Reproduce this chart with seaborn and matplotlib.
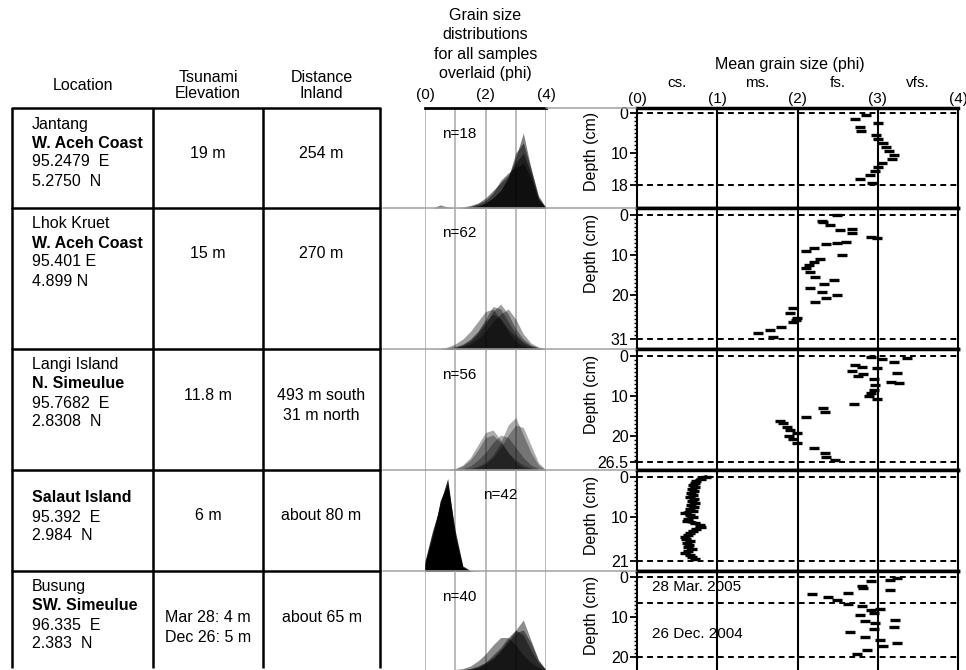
import matplotlib
matplotlib.use('Agg')
import matplotlib.pyplot as plt
import matplotlib.transforms as mtransforms
from matplotlib.ticker import FixedLocator, FixedFormatter
import seaborn as sns

# ---------------- data ----------------
SITE_LINES = [
    [('Jantang', 'normal'), ('W. Aceh Coast', 'bold'), ('95.2479  E', 'normal'), ('5.2750  N', 'normal')],
    [('Lhok Kruet', 'normal'), ('W. Aceh Coast', 'bold'), ('95.401 E', 'normal'), ('4.899 N', 'normal')],
    [('Langi Island', 'normal'), ('N. Simeulue', 'bold'), ('95.7682  E', 'normal'), ('2.8308  N', 'normal')],
    [('Salaut Island', 'bold'), ('95.392  E', 'normal'), ('2.984  N', 'normal')],
    [('Busung', 'normal'), ('SW. Simeulue', 'bold'), ('96.335  E', 'normal'), ('2.383  N', 'normal')],
]
ELEVATION = [['19 m'], ['15 m'], ['11.8 m'], ['6 m'], ['Mar 28: 4 m', 'Dec 26: 5 m']]
DISTANCE = [['254 m'], ['270 m'], ['493 m south', '31 m north'], ['about 80 m'], ['about 65 m']]
N_SAMPLES = [18, 62, 56, 42, 40]

# grain size distributions (weight %, overlaid samples) on a phi grid
PHI_GRID = [0.0, 0.25, 0.5, 0.75, 1.0, 1.25, 1.5, 1.75, 2.0, 2.25, 2.5, 2.75, 3.0, 3.25, 3.5, 3.75, 4.0]
JANTANG_DIST = [
    [0, 0, 0.6, 0.2, 0, 0, 0.2, 0.5, 1.0, 2.0, 3.5, 6.0, 10.0, 15.0, 8.0, 2.0, 0],
    [0, 0, 0, 0, 0, 0.2, 0.5, 1.0, 2.0, 3.5, 5.0, 6.5, 9.0, 11.0, 7.0, 2.0, 0],
    [0, 0, 0, 0, 0, 0, 0.3, 0.8, 1.5, 3.0, 5.5, 7.0, 8.0, 9.0, 6.0, 1.5, 0],
    [0, 0, 0, 0, 0, 0, 0, 0.3, 1.0, 2.0, 3.5, 6.0, 11.0, 13.0, 8.0, 2.5, 0],
]
LHOK_DIST = [
    [0, 0, 0, 0.2, 0.5, 1.0, 2.0, 3.5, 5.5, 7.0, 6.0, 4.0, 2.5, 1.2, 0.5, 0.2, 0],
    [0, 0, 0, 0, 0.3, 0.8, 1.5, 3.0, 5.0, 7.5, 9.0, 7.0, 4.0, 2.0, 0.8, 0.3, 0],
    [0, 0, 0.1, 0.4, 1.0, 2.0, 3.5, 5.5, 7.5, 8.0, 6.0, 3.5, 1.5, 0.6, 0.2, 0, 0],
    [0, 0, 0, 0, 0.2, 0.5, 1.0, 2.0, 3.5, 5.5, 7.0, 8.0, 6.0, 3.0, 1.2, 0.4, 0],
    [0, 0, 0, 0.1, 0.3, 0.8, 1.8, 3.5, 6.0, 8.5, 8.0, 5.5, 3.0, 1.5, 0.6, 0.2, 0],
]
LANGI_DIST = [
    [0, 0, 0, 0, 0.3, 1.0, 2.5, 5.0, 7.5, 8.0, 6.0, 3.5, 1.5, 0.5, 0.2, 0, 0],
    [0, 0, 0, 0, 0.2, 0.8, 2.0, 4.0, 6.5, 7.0, 5.5, 3.5, 2.0, 1.0, 0.4, 0, 0],
    [0, 0, 0, 0, 0, 0, 0.3, 0.8, 1.5, 3.0, 5.5, 9.0, 10.5, 7.0, 3.5, 1.0, 0],
    [0, 0, 0, 0, 0, 0, 0.2, 0.5, 1.2, 2.5, 4.5, 7.0, 9.0, 8.5, 5.0, 1.5, 0],
    [0, 0, 0, 0, 0, 0.3, 0.8, 2.0, 3.5, 5.5, 7.0, 6.5, 4.5, 2.5, 1.0, 0.3, 0],
]
SALAUT_DIST = [
    [1.5, 7.0, 13.5, 18.5, 7.0, 0.7, 0, 0, 0, 0, 0, 0, 0, 0, 0, 0, 0],
    [1.2, 6.0, 14.0, 17.5, 8.0, 1.0, 0.1, 0, 0, 0, 0, 0, 0, 0, 0, 0, 0],
    [2.0, 8.0, 13.0, 16.5, 6.0, 0.6, 0, 0, 0, 0, 0, 0, 0, 0, 0, 0, 0],
]
BUSUNG_DIST = [
    [0, 0, 0, 0, 0, 0.1, 0.3, 0.8, 1.5, 2.5, 4.0, 6.0, 8.0, 10.0, 6.0, 2.0, 0],
    [0, 0, 0, 0, 0, 0, 0.2, 0.5, 1.2, 2.2, 3.8, 5.5, 7.5, 8.0, 5.5, 2.0, 0],
    [0, 0, 0, 0, 0.1, 0.3, 0.8, 1.8, 3.2, 5.0, 6.5, 6.5, 5.0, 3.0, 1.5, 0.5, 0],
    [0, 0, 0, 0, 0, 0, 0.2, 0.6, 1.5, 3.0, 4.5, 6.5, 8.0, 7.0, 4.0, 1.5, 0],
]
DISTS = [JANTANG_DIST, LHOK_DIST, LANGI_DIST, SALAUT_DIST, BUSUNG_DIST]
DIST_ALPHA = [0.5, 0.38, 0.32, 0.85, 0.45]

# mean grain size (phi) against depth (cm)
JANTANG_DEPTH = [0.5, 1.5, 2.5, 3.5, 4.5, 5.5, 6.5, 7.5, 8.5, 9.5, 10.5, 11.5, 12.5, 13.5, 14.5, 15.5, 16.5, 17.5]
JANTANG_PHI = [2.85, 2.72, 3.0, 2.78, 2.79, 2.98, 3.0, 3.06, 3.1, 3.14, 3.2, 3.18, 3.05, 3.0, 2.97, 2.9, 2.78, 2.93]
LHOK_DEPTH = [0.0, 1.4, 1.8, 2.5, 3.6, 3.8, 4.6, 5.4, 5.8, 6.7, 6.9, 7.3, 8.3, 8.9, 10.0, 11.1, 11.7, 12.5, 13.3,
              14.2, 15.4, 16.3, 17.3, 18.3, 19.2, 20.0, 20.7, 21.7, 23.3, 24.6, 25.8, 26.3, 26.8, 28.0, 28.8, 29.4, 30.4]
LHOK_PHI = [2.49, 2.30, 2.32, 2.41, 2.68, 2.53, 2.68, 2.91, 2.99, 2.61, 2.49, 2.36, 2.20, 2.11, 2.55, 2.28, 2.20, 2.14,
            2.11, 2.15, 2.22, 2.45, 2.33, 2.15, 2.30, 2.49, 2.36, 2.22, 1.95, 1.91, 1.99, 1.98, 1.95, 1.80, 1.66, 1.51, 1.70]
LANGI_DEPTH = [0.2, 0.6, 0.8, 1.4, 2.2, 2.7, 3.1, 3.7, 4.2, 4.6, 5.0, 5.8, 6.4, 6.8, 7.2, 8.5, 9.3, 10.0, 10.8, 12.0,
               13.1, 13.9, 15.2, 16.2, 16.8, 17.8, 18.5, 19.3, 20.0, 20.8, 21.8, 23.1, 24.3, 25.2, 26.0]
LANGI_PHI = [2.92, 3.36, 3.05, 3.20, 2.72, 2.80, 2.99, 2.68, 3.24, 2.82, 2.76, 2.95, 3.17, 3.26, 2.97, 2.95, 2.91, 2.89,
             2.99, 2.70, 2.32, 2.34, 2.11, 1.78, 1.82, 1.87, 1.91, 1.99, 1.89, 1.95, 1.99, 2.20, 2.34, 2.36, 2.47]
SALAUT_DEPTH = [0.0, 0.5, 1.0, 1.5, 2.0, 2.5, 3.0, 3.5, 4.0, 4.5, 5.0, 5.5, 6.0, 6.5, 7.0, 7.5, 8.0, 8.5, 9.0, 9.5, 10.0,
                10.5, 11.0, 11.5, 12.0, 12.5, 13.0, 13.5, 14.0, 14.5, 15.0, 15.5, 16.0, 16.5, 17.0, 17.5, 18.0, 18.5,
                19.0, 19.5, 20.0, 20.5]
SALAUT_PHI = [0.86, 0.80, 0.74, 0.72, 0.70, 0.72, 0.68, 0.71, 0.67, 0.70, 0.66, 0.71, 0.68, 0.72, 0.67, 0.71, 0.66, 0.70,
              0.60, 0.66, 0.70, 0.64, 0.62, 0.72, 0.78, 0.80, 0.74, 0.70, 0.66, 0.63, 0.60, 0.61, 0.66, 0.62, 0.65,
              0.63, 0.68, 0.64, 0.60, 0.66, 0.68, 0.72]
BUSUNG_DEPTH = [0.3, 0.7, 1.1, 2.2, 2.75, 3.2, 3.9, 4.3, 4.9, 5.75, 6.7, 7.25, 8.1, 8.3, 9.1, 9.5, 10.75, 10.9, 11.6,
                12.4, 13.1, 13.7, 14.9, 15.75, 16.4, 17.25, 18.25, 19.25]
BUSUNG_PHI = [3.24, 3.15, 2.91, 2.80, 2.82, 3.15, 2.63, 2.18, 2.38, 2.49, 2.63, 2.80, 3.03, 2.92, 2.95, 2.78, 3.22, 2.84,
              2.97, 3.20, 2.95, 2.66, 2.84, 3.03, 3.24, 3.07, 2.86, 2.74]
MEAN_DEPTHS = [JANTANG_DEPTH, LHOK_DEPTH, LANGI_DEPTH, SALAUT_DEPTH, BUSUNG_DEPTH]
MEAN_PHIS = [JANTANG_PHI, LHOK_PHI, LANGI_PHI, SALAUT_PHI, BUSUNG_PHI]

DEPOSIT_BASE = [18, 31, 26.5, 21, 20]
DEPTH_TICKS = [[0, 10, 18], [0, 10, 20, 31], [0, 10, 20, 26.5], [0, 10, 21], [0, 10, 20]]
DEPTH_TICK_LABELS = [['0', '10', '18'], ['0', '10', '20', '31'], ['0', '10', '20', '26.5'],
                     ['0', '10', '21'], ['0', '10', '20']]
BUSUNG_EVENT_BOUNDARY = 6.5
PHI_LABELS = ['(0)', '(1)', '(2)', '(3)', '(4)']
CLASS_LABELS = ['cs.', 'ms.', 'fs.', 'vfs.']

# ---------------- layout (pixels) ----------------
W, H = 966, 670
ROW_EDGES = [108, 208, 349, 470, 571, 670]
TABLE_X = [12, 153, 263, 380]
GRAIN_X = (425, 546)
MEAN_X = (637, 958)
DEPTH_ZERO_PX = [113, 215, 356, 477, 577]
PX_PER_CM = 4.0
PX_PER_PCT = 5.0

sns.set_style('white', {'text.color': 'black', 'axes.labelcolor': 'black', 'xtick.color': 'black',
                        'ytick.color': 'black', 'axes.edgecolor': 'black'})
plt.rcParams['font.family'] = ['Liberation Sans', 'DejaVu Sans']
plt.rcParams['axes.linewidth'] = 1.5

fig = plt.figure(figsize=(W / 100, H / 100), dpi=100)


def px_axes(x0, y0, x1, y1):
    return fig.add_axes([x0 / W, 1 - y1 / H, (x1 - x0) / W, (y1 - y0) / H])


# canvas for table and headers (kept on top, it has no background)
cv = fig.add_axes([0, 0, 1, 1])
cv.set_xlim(0, W)
cv.set_ylim(H, 0)
cv.axis('off')
cv.set_zorder(5)

table_bottom = 668
for x in TABLE_X:
    cv.plot([x, x], [ROW_EDGES[0], table_bottom], color='black', lw=1.8, solid_capstyle='butt')
for y in ROW_EDGES[:-1]:
    cv.plot([TABLE_X[0], TABLE_X[-1]], [y, y], color='black', lw=1.8)
for y in ROW_EDGES[1:-1]:
    cv.plot([TABLE_X[-1] + 3, MEAN_X[0] - 1], [y, y], color='#a0a0a0', lw=1.1)
cv.plot([GRAIN_X[1], MEAN_X[0] - 1], [ROW_EDGES[0], ROW_EDGES[0]], color='#a0a0a0', lw=1.1)

fs_tab = 11.5
col_c = [(TABLE_X[1] + TABLE_X[2]) / 2, (TABLE_X[2] + TABLE_X[3]) / 2]
cv.text((TABLE_X[0] + TABLE_X[1]) / 2, 85, 'Location', ha='center', va='center', fontsize=fs_tab)
cv.text(col_c[0], 77, 'Tsunami', ha='center', va='center', fontsize=fs_tab)
cv.text(col_c[0], 94, 'Elevation', ha='center', va='center', fontsize=fs_tab)
cv.text(col_c[1], 77, 'Distance', ha='center', va='center', fontsize=fs_tab)
cv.text(col_c[1], 94, 'Inland', ha='center', va='center', fontsize=fs_tab)

for i, lines in enumerate(SITE_LINES):
    top = ROW_EDGES[i]
    first = top + (28 if len(lines) == 3 else 16)
    for k, (txt, wt) in enumerate(lines):
        cv.text(TABLE_X[0] + 20, first + 19 * k, txt, ha='left', va='center', fontsize=fs_tab, fontweight=wt)
    for k, txt in enumerate(ELEVATION[i]):
        cv.text(col_c[0], top + 46 + 20 * k, txt, ha='center', va='center', fontsize=fs_tab)
    for k, txt in enumerate(DISTANCE[i]):
        cv.text(col_c[1], top + 46 + 20 * k, txt, ha='center', va='center', fontsize=fs_tab)

gx = (GRAIN_X[0] + GRAIN_X[1]) / 2
for k, txt in enumerate(['Grain size', 'distributions', 'for all samples', 'overlaid (phi)']):
    cv.text(gx, 15 + 19.5 * k, txt, ha='center', va='center', fontsize=fs_tab)
cv.text(790, 65, 'Mean grain size (phi)', ha='center', va='center', fontsize=fs_tab)

N_POS = [(459, 134), (459, 233), (459, 375), (500, 495), (459, 597)]
for (x, y), n in zip(N_POS, N_SAMPLES):
    cv.text(x, y, f'n={n}', ha='center', va='center', fontsize=11)

# grain size distribution panels
for i, curves in enumerate(DISTS):
    top, bot = ROW_EDGES[i], ROW_EDGES[i + 1]
    ax = px_axes(GRAIN_X[0], top, GRAIN_X[1], bot)
    ax.set_facecolor('none')
    for c in curves:
        ax.fill_between(PHI_GRID, c, color='black', alpha=DIST_ALPHA[i], linewidth=0)
    for p in [0, 1, 2, 3, 4]:
        ax.axvline(p, color='#a8a8a8', lw=1.1, zorder=0)
    ax.set_xlim(0, 4)
    ax.set_ylim(0, (bot - top) / PX_PER_PCT)
    ax.set_yticks([])
    for s in ax.spines.values():
        s.set_visible(False)
    if i == 0:
        ax.spines['top'].set_visible(True)
        ax.spines['top'].set_linewidth(2)
        ax.xaxis.tick_top()
        ax.set_xticks([0, 2, 4])
        ax.set_xticklabels(['(0)', '(2)', '(4)'])
        ax.tick_params(axis='x', length=0, pad=4, labelsize=11)
    else:
        ax.set_xticks([])

# mean grain size panels
for i in range(5):
    top, bot = ROW_EDGES[i], ROW_EDGES[i + 1]
    ax = px_axes(MEAN_X[0], top, MEAN_X[1], bot)
    z = DEPTH_ZERO_PX[i]
    ax.set_xlim(0, 4)
    ax.set_ylim((bot - z) / PX_PER_CM, (top - z) / PX_PER_CM)
    for p in [1, 2, 3]:
        ax.axvline(p, color='black', lw=1.5, zorder=1)
    ax.axhline(0, color='black', lw=1.4, ls=(0, (3, 2.2)), zorder=1)
    ax.axhline(DEPOSIT_BASE[i], color='black', lw=1.4, ls=(0, (3, 2.2)), zorder=1)
    if i == 4:
        ax.axhline(BUSUNG_EVENT_BOUNDARY, color='black', lw=1.4, ls=(0, (3, 2.2)), zorder=1)
        ax.text(0.19, 2.6, '28 Mar. 2005', fontsize=11, va='center', ha='left', zorder=0)
        ax.text(0.19, 14.2, '26 Dec. 2004', fontsize=11, va='center', ha='left', zorder=0)
    if i == 3:
        sns.lineplot(x=MEAN_PHIS[i], y=MEAN_DEPTHS[i], orient='y', sort=False, estimator=None,
                     color='black', lw=2.8, ax=ax, zorder=3)
    sns.scatterplot(x=MEAN_PHIS[i], y=MEAN_DEPTHS[i], marker='_', s=60, linewidth=2.4,
                    color='black', edgecolor=None, ax=ax, zorder=3, legend=False)
    ax.yaxis.set_major_locator(FixedLocator(DEPTH_TICKS[i]))
    ax.yaxis.set_major_formatter(FixedFormatter(DEPTH_TICK_LABELS[i]))
    ax.yaxis.set_minor_locator(FixedLocator(list(range(0, int(DEPOSIT_BASE[i]) + 1))))
    ax.tick_params(axis='y', which='major', left=True, length=5, width=1.3, pad=1, labelsize=11.5)
    ax.tick_params(axis='y', which='minor', left=True, length=2.5, width=1)
    ax.set_ylabel('Depth (cm)', fontsize=11.5)
    ax.yaxis.set_label_coords(-0.118, 9.5,
                              transform=mtransforms.blended_transform_factory(ax.transAxes, ax.transData))
    for side in ['top', 'bottom']:
        ax.spines[side].set_linewidth(2.5)
    if i == 4:
        ax.spines['bottom'].set_visible(False)
    if i == 0:
        ax.xaxis.tick_top()
        ax.set_xticks([0, 1, 2, 3, 4])
        ax.set_xticklabels(PHI_LABELS)
        ax.tick_params(axis='x', length=0, pad=1.5, labelsize=11)
        for k, lab in enumerate(CLASS_LABELS):
            ax.text(k + 0.5, 1.25, lab, transform=mtransforms.blended_transform_factory(ax.transData, ax.transAxes),
                    ha='center', va='center', fontsize=11)
    else:
        ax.set_xticks([])
    ax.set_xlabel('')

fig.savefig('out.png', dpi=100)
